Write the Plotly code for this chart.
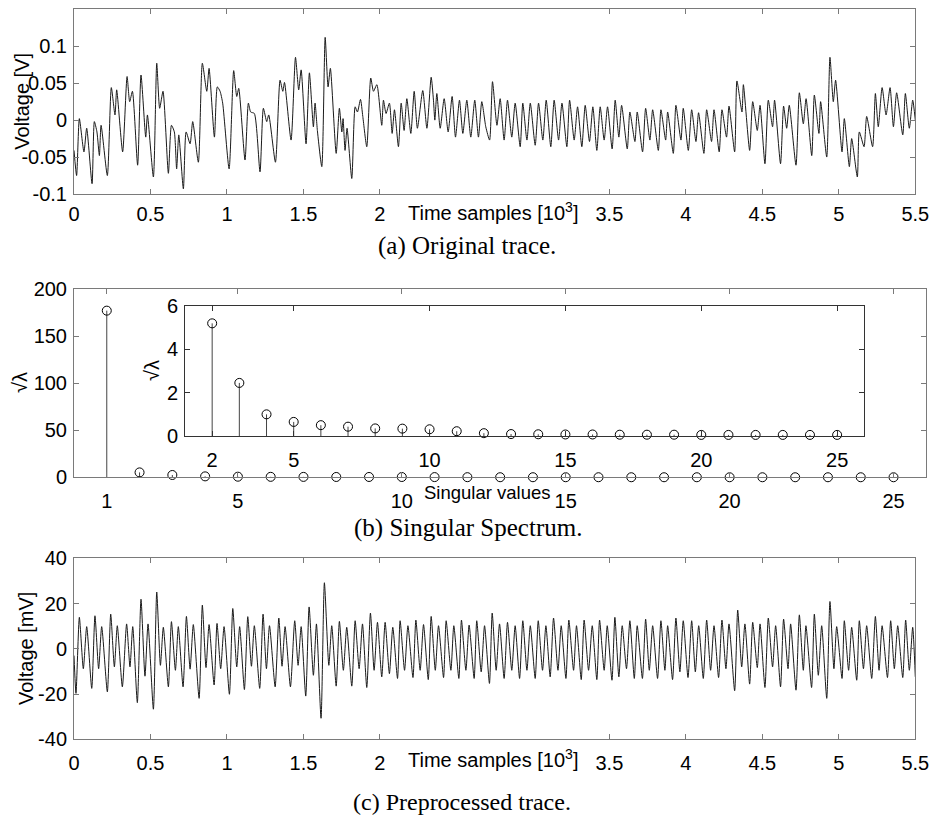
import plotly.graph_objects as go

W, H = 933, 819

# ---------------- data ----------------
# (a) original trace: time [10^3 samples], voltage [V] (extrema)
a_t = [0.000,0.017,0.035,0.065,0.083,0.118,0.133,0.150,0.166,0.177,0.218,0.244,0.268,0.279,0.318,
       0.347,0.364,0.382,0.416,0.438,0.469,0.480,0.519,0.541,0.560,0.582,0.617,0.637,0.656,0.671,
       0.685,0.715,0.733,0.759,0.776,0.813,0.839,0.868,0.883,0.918,0.937,0.955,0.972,1.014,1.044,
       1.064,1.077,1.118,1.140,1.155,1.179,1.216,1.238,1.260,1.273,1.317,1.347,1.365,1.376,1.419,
       1.448,1.469,1.485,1.517,1.539,
       1.565,1.576,1.591,1.620,1.642,1.661,1.676,1.714,1.735,1.751,1.759,1.772,1.785,1.816,1.838,
       1.853,1.873,1.888,1.914,1.940,1.958,1.980,2.012,2.023,2.040,2.062,2.080,2.095,2.121,2.139,
       2.158,2.176,2.202,2.224,2.245,2.280,2.307,2.335,2.350,2.359,2.372,2.394,2.420,2.446,2.472,
       2.494,2.520,2.542,2.568,2.594,2.620,2.644,2.666,2.692,2.717,2.736,2.765,2.786,2.812,2.834,
       2.862,2.884,2.917,2.934,2.961,2.983,3.015,3.037,3.065,3.087,3.117,3.139,3.168,3.190,3.222,
       3.240,3.270,3.292,3.320,3.342,3.370,3.392,3.418,3.440,3.466,3.488,3.518,3.538,
       3.562,3.580,3.617,3.634,3.667,3.682,3.717,3.737,3.765,3.783,3.820,3.837,3.868,3.881,3.918,
       3.935,3.968,3.983,4.016,4.038,4.066,4.083,4.118,4.136,4.168,4.184,4.218,4.236,4.266,4.282,
       4.319,4.334,4.367,4.376,4.417,4.437,4.467,4.485,4.517,4.539,4.567,4.580,4.619,4.639,4.659,
       4.676,4.720,4.742,4.768,4.786,4.823,4.840,4.870,4.881,4.921,4.942,4.964,4.979,5.021,5.036,
       5.069,5.084,5.121,5.134,5.165,5.182,5.221,5.239,5.258,5.283,5.309,5.335,5.357,5.378,5.418,
       5.435,5.461,5.483,5.500]
a_v = [-0.041,-0.075,0.002,-0.043,-0.011,-0.086,-0.002,-0.016,-0.048,-0.007,-0.075,0.044,0.007,0.041,-0.043,
       0.059,0.025,0.039,-0.061,0.061,-0.023,0.007,-0.077,0.077,0.016,0.039,-0.072,-0.007,-0.016,-0.066,
       -0.020,-0.093,-0.016,-0.032,-0.002,-0.057,0.077,0.039,0.070,-0.023,0.045,0.039,0.023,-0.066,0.067,
       0.032,0.043,-0.054,0.023,0.011,0.009,-0.070,0.016,-0.002,0.007,-0.057,0.054,0.039,0.051,-0.027,
       0.085,0.041,0.068,-0.032,0.064,
       -0.009,0.023,-0.014,-0.063,0.112,0.045,0.070,-0.045,0.016,-0.016,0.002,-0.041,-0.011,-0.079,0.018,
       0.011,0.028,0.005,-0.036,0.057,0.039,0.048,-0.007,0.027,0.009,0.023,-0.018,0.014,-0.036,0.023,
       -0.014,0.029,-0.018,0.039,-0.011,0.040,-0.011,0.058,0.027,0.000,0.036,-0.011,0.029,-0.016,0.032,
       -0.023,0.027,-0.018,0.027,-0.023,0.027,-0.023,0.025,-0.009,-0.027,0.052,-0.007,0.029,-0.027,0.027,
       -0.023,0.023,-0.036,0.023,-0.027,0.023,-0.034,0.023,-0.027,0.027,-0.036,0.027,-0.027,0.023,-0.036,
       0.027,-0.027,0.018,-0.036,0.020,-0.029,0.018,-0.041,0.018,-0.027,0.018,-0.039,0.027,
       -0.023,0.020,-0.039,0.011,-0.029,0.011,-0.043,0.016,-0.027,0.014,-0.041,0.014,-0.027,0.011,-0.045,
       0.020,-0.027,0.016,-0.041,0.014,-0.029,0.010,-0.045,0.014,-0.029,0.014,-0.043,0.014,-0.023,0.019,
       -0.043,0.053,0.011,0.048,-0.041,0.025,-0.014,0.020,-0.059,0.027,-0.009,0.027,-0.059,0.019,-0.011,
       0.020,-0.061,0.037,-0.005,0.029,-0.048,0.034,-0.018,0.025,-0.050,0.085,0.025,0.054,-0.043,0.002,
       -0.063,-0.025,-0.077,-0.016,-0.036,0.005,-0.036,0.036,-0.009,0.044,0.007,0.044,-0.009,0.037,-0.020,
       0.036,-0.011,0.027,0.000]

# (b) singular spectrum
sv_index = list(range(1, 26))
sv_values = [177, 5.2, 2.45, 1.0, 0.65, 0.5, 0.43, 0.35, 0.34, 0.31, 0.22, 0.13, 0.09,
             0.08, 0.07, 0.07, 0.06, 0.06, 0.06, 0.05, 0.05, 0.05, 0.05, 0.05, 0.05]

# (c) preprocessed trace: time [10^3 samples], voltage [mV]
c_t = [0.000,0.013,0.035,0.061,0.083,0.116,0.137,0.161,0.181,0.218,0.240,0.264,0.283,0.316,0.344,
       0.366,0.384,0.414,0.438,0.464,0.484,0.519,0.541,0.565,0.584,0.617,0.637,0.663,0.682,0.713,
       0.735,0.759,0.780,0.818,0.839,0.863,0.883,0.916,0.935,0.959,0.981,1.016,1.038,1.064,1.083,
       1.114,1.136,1.160,1.179,1.214,1.236,1.258,1.278,1.315,1.339,1.360,1.380,1.415,1.443,1.465,
       1.485,1.515,1.537,1.565,1.585,
       1.615,1.637,1.666,1.685,1.714,1.735,1.761,1.783,1.816,1.838,1.864,1.886,1.914,1.938,1.962,
       1.984,2.012,2.034,2.062,2.084,2.115,2.132,2.161,2.183,2.216,2.235,2.263,2.285,2.316,2.335,
       2.362,2.383,2.416,2.433,2.464,2.483,2.516,2.533,2.562,2.583,2.616,2.633,2.662,2.684,2.716,
       2.734,2.760,2.782,2.812,2.834,2.862,2.884,2.913,2.934,2.961,2.983,3.015,3.035,3.063,3.085,
       3.113,3.135,3.164,3.185,3.216,3.235,3.266,3.285,3.316,3.335,3.364,3.388,3.418,3.436,3.466,
       3.486,3.517,3.536,
       3.562,3.584,3.612,3.634,3.663,3.682,3.716,3.737,3.761,3.783,3.815,3.837,3.863,3.881,3.913,
       3.935,3.961,3.983,4.014,4.038,4.062,4.084,4.114,4.136,4.162,4.184,4.214,4.236,4.262,4.282,
       4.319,4.339,4.365,4.386,4.417,4.437,4.467,4.485,4.517,4.539,4.567,4.587,4.619,4.639,4.668,
       4.685,4.720,4.742,4.768,4.785,4.822,4.840,4.866,4.888,4.921,4.942,4.968,4.986,5.021,5.036,
       5.064,5.084,5.117,5.134,5.161,5.182,5.215,5.239,5.263,5.283,5.318,5.339,5.363,5.385,5.418,
       5.437,5.461,5.483,5.500]
c_v = [-3,-19.7,13.9,-8.8,9.8,-17.5,14.6,-8.8,9.8,-19,15.3,-8,10.2,-16.8,11,
       -8,9.8,-23.8,21.9,-12.1,11,-26.7,25.1,-7.3,9.5,-16.8,12,-9.5,9.8,-16.8,
       14.3,-9,10.7,-21.9,19.3,-8.3,10.7,-16,11.2,-8.8,9.8,-20.1,17.8,-8,9.8,
       -18,14.2,-7.7,10.2,-17.5,15.3,-8.8,10.2,-16.8,13.6,-7.7,9.8,-16.8,12.4,-7.3,
       9.8,-20.9,18.5,-11.7,11,
       -30.7,29.2,-7.3,10.2,-16.5,12.1,-9.5,9.5,-16.5,12.4,-8.8,11,-17.1,15.8,-9.5,
       11.7,-12.4,11.7,-11,9.5,-13.1,12.4,-9.5,10.2,-12.7,12.7,-9.5,10.7,-13.6,14.3,
       -9.5,10.2,-12.7,12.4,-9.5,10.2,-13.1,12.7,-9.5,10.5,-13.1,12.4,-10.2,10.2,-15.3,
       15.8,-9.5,11,-13.1,11.7,-9.5,10.2,-13.1,12.4,-9.5,10.2,-13.1,12.4,-9.5,10.2,
       -12.4,13.6,-9.5,10.2,-13.1,12.7,-9.5,10.2,-13.6,12.7,-9.5,10.2,-13.6,12.7,-9.5,
       10.2,-13.9,13.9,
       -12.4,10.2,-8.8,12.4,-13.1,10.2,-13.1,13.1,-9.5,10.2,-13.1,12.4,-9.5,10.2,-13.6,
       13.6,-10.2,12.4,-12.7,12.4,-10.2,10.2,-13.1,12.7,-9.5,10.2,-12.7,12.7,-8.8,11,
       -18.5,17.1,-8,11,-15.6,11.7,-8.3,11,-17.1,13.6,-8,10.2,-16.8,13.1,-8.8,
       11,-18.3,15,-9.5,10.2,-17.1,15.3,-11.7,10.2,-21.9,20.9,-8.8,9.8,-13.1,12.4,
       -9.5,9.5,-13.9,12.4,-8.8,10.2,-13.1,14.3,-9.5,10.2,-12.7,12.4,-8.8,10.2,-12.7,
       12.7,-9.5,9.5,-12.4]

time_ticks = [0, 0.5, 1, 1.5, 2, 3.5, 4, 4.5, 5, 5.5]
time_ticktext = ["0", "0.5", "1", "1.5", "2", "3.5", "4", "4.5", "5", "5.5"]
va_ticks = [-0.1, -0.05, 0, 0.05, 0.1]
va_ticktext = ["-0.1", "-0.05", "0", "0.05", "0.1"]
sv_xticks = [1, 5, 10, 15, 20, 25]
sv_yticks = [0, 50, 100, 150, 200]
inset_xticks = [2, 5, 10, 15, 20, 25]
inset_yticks = [0, 2, 4, 6]
vc_ticks = [-40, -20, 0, 20, 40]
vc_ticktext = ["-40", "-20", "0", "20", "40"]

# ---------------- figure ----------------
def px_x(p):
    return p / W

def px_y(p):
    return 1 - p / H

SANS = "Liberation Sans, Arial, sans-serif"
SERIF = "Liberation Serif, Times New Roman, serif"
TICKF = dict(family=SANS, size=20, color="black")
FRAME = "#7a7a7a"

fig = go.Figure()

line_style = dict(color="#1a1a1a", width=1, shape="spline", smoothing=0.6)
fig.add_trace(go.Scatter(x=a_t, y=a_v, mode="lines", line=line_style, xaxis="x", yaxis="y"))
fig.add_trace(go.Scatter(x=c_t, y=c_v, mode="lines", line=line_style, xaxis="x3", yaxis="y3"))

# stems, main panel
sx, sy = [], []
for k, v in zip(sv_index, sv_values):
    sx += [k, k, None]
    sy += [0, v, None]
fig.add_trace(go.Scatter(x=sx, y=sy, mode="lines", line=dict(color="#444", width=1),
                         xaxis="x2", yaxis="y2"))
fig.add_trace(go.Scatter(x=sv_index, y=sv_values, mode="markers",
                         marker=dict(symbol="circle-open", size=9, color="black",
                                     line=dict(width=1, color="black")),
                         xaxis="x2", yaxis="y2", cliponaxis=False))
# stems, inset (from the 2nd singular value)
ix, iy = [], []
for k, v in zip(sv_index[1:], sv_values[1:]):
    ix += [k, k, None]
    iy += [0, v, None]
fig.add_trace(go.Scatter(x=ix, y=iy, mode="lines", line=dict(color="#444", width=1),
                         xaxis="x4", yaxis="y4"))
fig.add_trace(go.Scatter(x=sv_index[1:], y=sv_values[1:], mode="markers",
                         marker=dict(symbol="circle-open", size=9, color="black",
                                     line=dict(width=1, color="black")),
                         xaxis="x4", yaxis="y4", cliponaxis=False))

def ax(domain, rng, tickvals, ticktext=None, anchor=None, color=FRAME, standoff=None):
    d = dict(domain=domain, range=rng, tickvals=tickvals, ticks="inside", ticklen=5,
             tickcolor=color, tickwidth=1, showline=True, linecolor=color, linewidth=1,
             mirror="ticks", showgrid=False, zeroline=False, tickfont=TICKF, anchor=anchor,
             automargin=False)
    if ticktext is not None:
        d["ticktext"] = ticktext
    if standoff is not None:
        d["ticklabelstandoff"] = standoff
    return d

xa_dom = [px_x(74), px_x(915.3)]
fig.update_layout(
    template="none",
    width=W, height=H, margin=dict(l=0, r=0, t=0, b=0, pad=0, autoexpand=False),
    paper_bgcolor="white", plot_bgcolor="white", showlegend=False,
    xaxis=ax(xa_dom, [0, 5.5], time_ticks, time_ticktext, "y", standoff=2),
    yaxis=ax([px_y(194), px_y(9.3)], [-0.1, 0.15], va_ticks, va_ticktext, "x", standoff=2),
    xaxis2=ax([px_x(74), px_x(926.3)], [0, 26], sv_xticks, None, "y2", standoff=6),
    yaxis2=ax([px_y(477.3), px_y(289)], [0, 200], sv_yticks, None, "x2", standoff=2),
    xaxis3=ax(xa_dom, [0, 5.5], time_ticks, time_ticktext, "y3", standoff=6),
    yaxis3=ax([px_y(739.3), px_y(558.3)], [-40, 40], vc_ticks, vc_ticktext, "x3", standoff=2),
    xaxis4=ax([px_x(185), px_x(864.3)], [1, 26], inset_xticks, None, "y4", color="#333", standoff=6),
    yaxis4=ax([px_y(436), px_y(306)], [0, 6], inset_yticks, None, "x4", color="#333", standoff=2),
)

ann = []
def label(text, x, y, xref="paper", angle=0, size=20, family=SANS):
    ann.append(dict(text=text, x=x, y=y, xref=xref, yref="paper", showarrow=False,
                    textangle=angle, xanchor="center", yanchor="middle",
                    font=dict(family=family, size=size, color="black")))

label("Voltage [V]", px_x(22), px_y(101.7), angle=-90)
label("√λ", px_x(20), px_y(383), angle=-90)
label("√λ", px_x(152), px_y(371), angle=-90)
label("Voltage [mV]", px_x(26), px_y(649), angle=-90)
label("Time samples [10<sup>3</sup>]", 2.74, px_y(212), xref="x")
label("Singular values", 12.6, px_y(492), xref="x2", size=18.5)
label("Time samples [10<sup>3</sup>]", 2.74, px_y(758), xref="x3")
label("(a) Original trace.", 0.5, px_y(246), size=25, family=SERIF)
label("(b) Singular Spectrum.", 0.502, px_y(528), size=25, family=SERIF)
label("(c) Preprocessed trace.", 0.495, px_y(802), size=24, family=SERIF)
fig.update_layout(annotations=ann)

fig.write_html("out.html", config={"displayModeBar": False},
               post_script="document.body.style.margin='0';document.body.style.padding='0';")
